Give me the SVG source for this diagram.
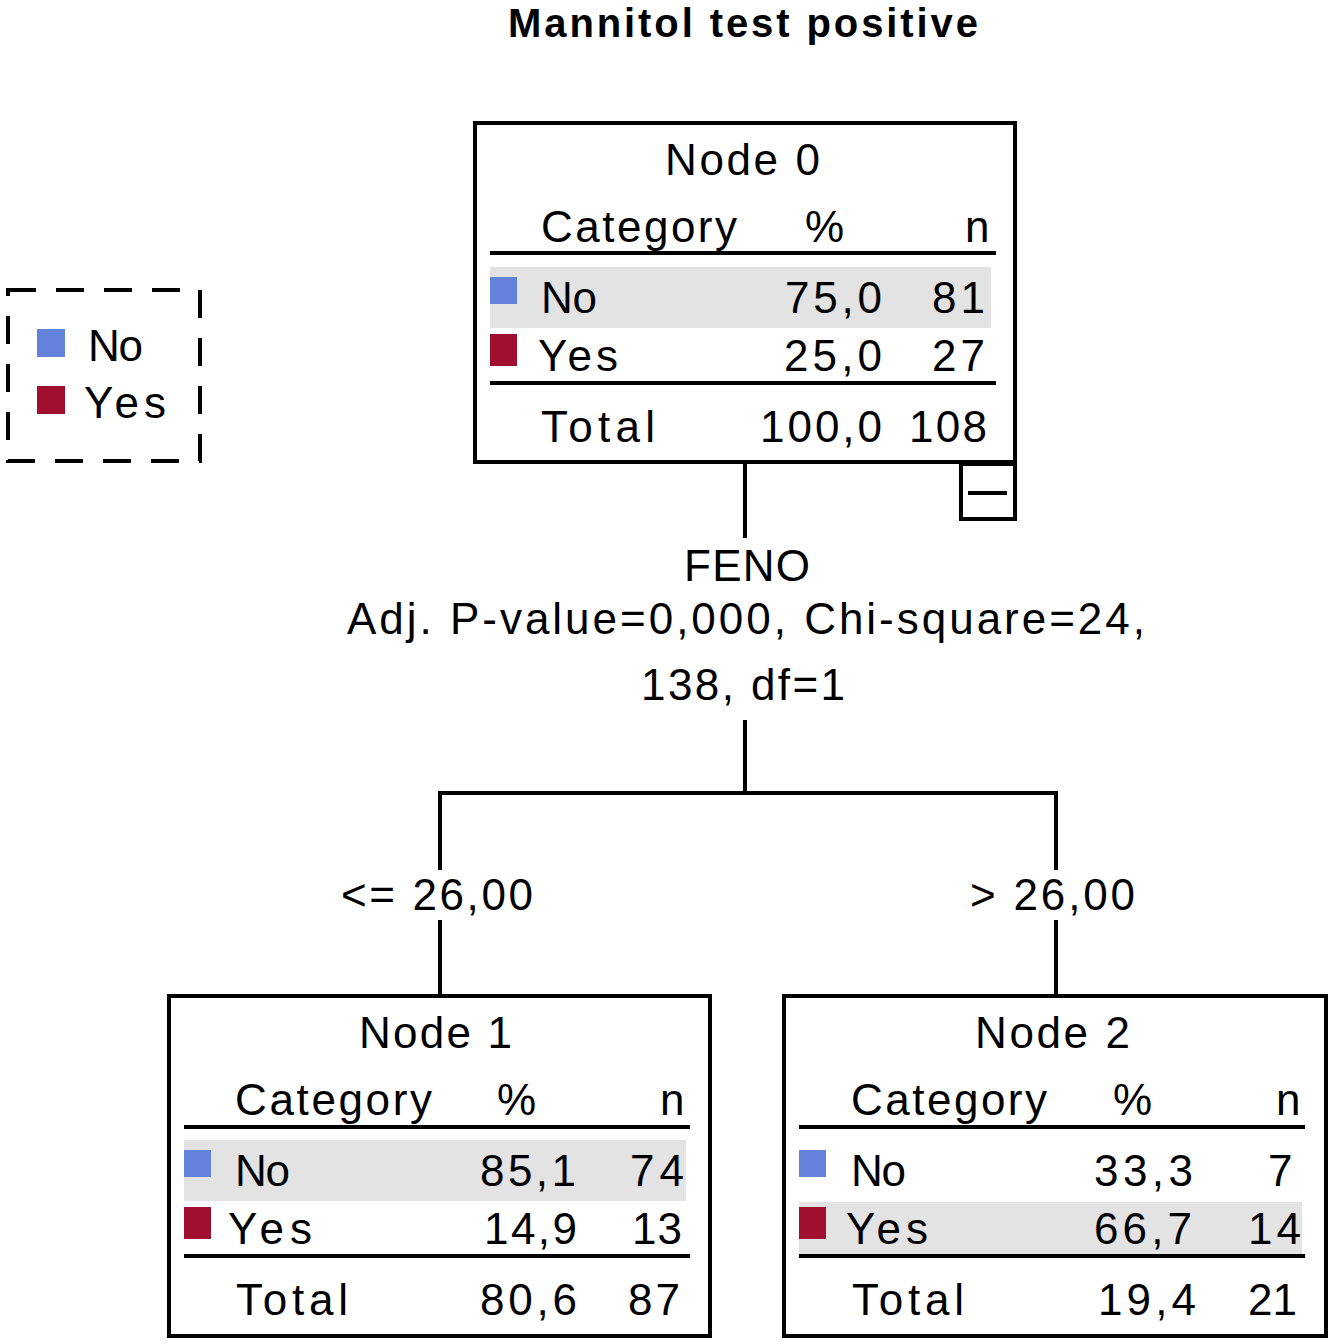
<svg xmlns="http://www.w3.org/2000/svg" width="1333" height="1344" viewBox="0 0 1333 1344">
<style>
text{font-family:"Liberation Sans",Arial,sans-serif;font-size:44px;fill:#000}
.ttl{font-size:40px;font-weight:bold}
.box{fill:#fff;stroke:#000;stroke-width:4}
.rule{stroke:#000;stroke-width:4}
.hl{fill:#e3e3e3}
.no{fill:#6382db}
.yes{fill:#a0102e}
.con{fill:none;stroke:#000;stroke-width:4}
</style>
<rect width="1333" height="1344" fill="#fff"/>
<text class="ttl" x="508" y="37" textLength="470" lengthAdjust="spacing">Mannitol test positive</text>

<g id="legend">
<rect x="8" y="290" width="192" height="171" fill="none" stroke="#000" stroke-width="4" stroke-dasharray="28 20"/>
<rect class="no" x="37" y="329" width="28" height="28"/>
<rect class="yes" x="37" y="386" width="28" height="28"/>
<text x="88" y="361" textLength="55" lengthAdjust="spacing">No</text>
<text x="84" y="418" textLength="82" lengthAdjust="spacing">Yes</text>
</g>

<g id="connectors">
<path class="con" d="M745 464V538M745 720V793M440 793H1056M440 791V870M440 920V994M1056 791V870M1056 920V994"/>
<text x="684" y="581" textLength="126" lengthAdjust="spacing">FENO</text>
<text x="347" y="634" textLength="798" lengthAdjust="spacing">Adj. P-value=0,000, Chi-square=24,</text>
<text x="641" y="700" textLength="204" lengthAdjust="spacing">138, df=1</text>
<text x="341" y="910" textLength="192" lengthAdjust="spacing">&lt;= 26,00</text>
<text x="970" y="910" textLength="165" lengthAdjust="spacing">&gt; 26,00</text>
</g>

<g id="node0">
<rect class="box" x="475" y="123" width="540" height="339"/>
<rect class="box" x="961" y="464" width="54" height="55"/>
<line class="rule" x1="968" y1="493" x2="1007" y2="493"/>
<text x="665" y="175" textLength="155" lengthAdjust="spacing">Node 0</text>
<text x="541" y="242" textLength="196" lengthAdjust="spacing">Category</text>
<text x="805" y="242">%</text>
<text x="965" y="242">n</text>
<line class="rule" x1="490" y1="253" x2="996" y2="253"/>
<rect class="hl" x="490" y="267" width="501" height="61"/>
<rect class="no" x="490" y="277" width="27" height="27"/>
<text x="541" y="313" textLength="56" lengthAdjust="spacing">No</text>
<text x="785" y="313" textLength="97" lengthAdjust="spacing">75,0</text>
<text x="932" y="313" textLength="53" lengthAdjust="spacing">81</text>
<rect class="yes" x="490" y="334" width="27" height="32"/>
<text x="538" y="371" textLength="80" lengthAdjust="spacing">Yes</text>
<text x="784" y="371" textLength="98" lengthAdjust="spacing">25,0</text>
<text x="932" y="371" textLength="53" lengthAdjust="spacing">27</text>
<line class="rule" x1="490" y1="383" x2="996" y2="383"/>
<text x="541" y="442" textLength="114" lengthAdjust="spacing">Total</text>
<text x="760" y="442" textLength="122" lengthAdjust="spacing">100,0</text>
<text x="909" y="442" textLength="78" lengthAdjust="spacing">108</text>
</g>

<g id="node1">
<rect class="box" x="169" y="996" width="541" height="340"/>
<text x="359" y="1048" textLength="153" lengthAdjust="spacing">Node 1</text>
<text x="235" y="1115" textLength="197" lengthAdjust="spacing">Category</text>
<text x="497" y="1115">%</text>
<text x="660" y="1115">n</text>
<line class="rule" x1="184" y1="1127" x2="690" y2="1127"/>
<rect class="hl" x="184" y="1140" width="502" height="61"/>
<rect class="no" x="184" y="1150" width="27" height="27"/>
<text x="235" y="1186" textLength="55" lengthAdjust="spacing">No</text>
<text x="480" y="1186" textLength="96" lengthAdjust="spacing">85,1</text>
<text x="630" y="1186" textLength="54" lengthAdjust="spacing">74</text>
<rect class="yes" x="184" y="1207" width="27" height="32"/>
<text x="228" y="1244" textLength="84" lengthAdjust="spacing">Yes</text>
<text x="484" y="1244" textLength="93" lengthAdjust="spacing">14,9</text>
<text x="632" y="1244" textLength="50" lengthAdjust="spacing">13</text>
<line class="rule" x1="184" y1="1256" x2="690" y2="1256"/>
<text x="236" y="1315" textLength="112" lengthAdjust="spacing">Total</text>
<text x="480" y="1315" textLength="97" lengthAdjust="spacing">80,6</text>
<text x="628" y="1315" textLength="52" lengthAdjust="spacing">87</text>
</g>

<g id="node2">
<rect class="box" x="784" y="996" width="542" height="340"/>
<text x="975" y="1048" textLength="155" lengthAdjust="spacing">Node 2</text>
<text x="851" y="1115" textLength="196" lengthAdjust="spacing">Category</text>
<text x="1113" y="1115">%</text>
<text x="1276" y="1115">n</text>
<line class="rule" x1="799" y1="1127" x2="1305" y2="1127"/>
<rect class="no" x="799" y="1150" width="27" height="27"/>
<text x="851" y="1186" textLength="55" lengthAdjust="spacing">No</text>
<text x="1094" y="1186" textLength="99" lengthAdjust="spacing">33,3</text>
<text x="1268" y="1186">7</text>
<rect class="hl" x="799" y="1202" width="503" height="52"/>
<rect class="yes" x="799" y="1207" width="27" height="32"/>
<text x="846" y="1244" textLength="82" lengthAdjust="spacing">Yes</text>
<text x="1094" y="1244" textLength="98" lengthAdjust="spacing">66,7</text>
<text x="1248" y="1244" textLength="53" lengthAdjust="spacing">14</text>
<line class="rule" x1="799" y1="1256" x2="1305" y2="1256"/>
<text x="852" y="1315" textLength="112" lengthAdjust="spacing">Total</text>
<text x="1098" y="1315" textLength="98" lengthAdjust="spacing">19,4</text>
<text x="1248" y="1315" textLength="49" lengthAdjust="spacing">21</text>
</g>
</svg>
